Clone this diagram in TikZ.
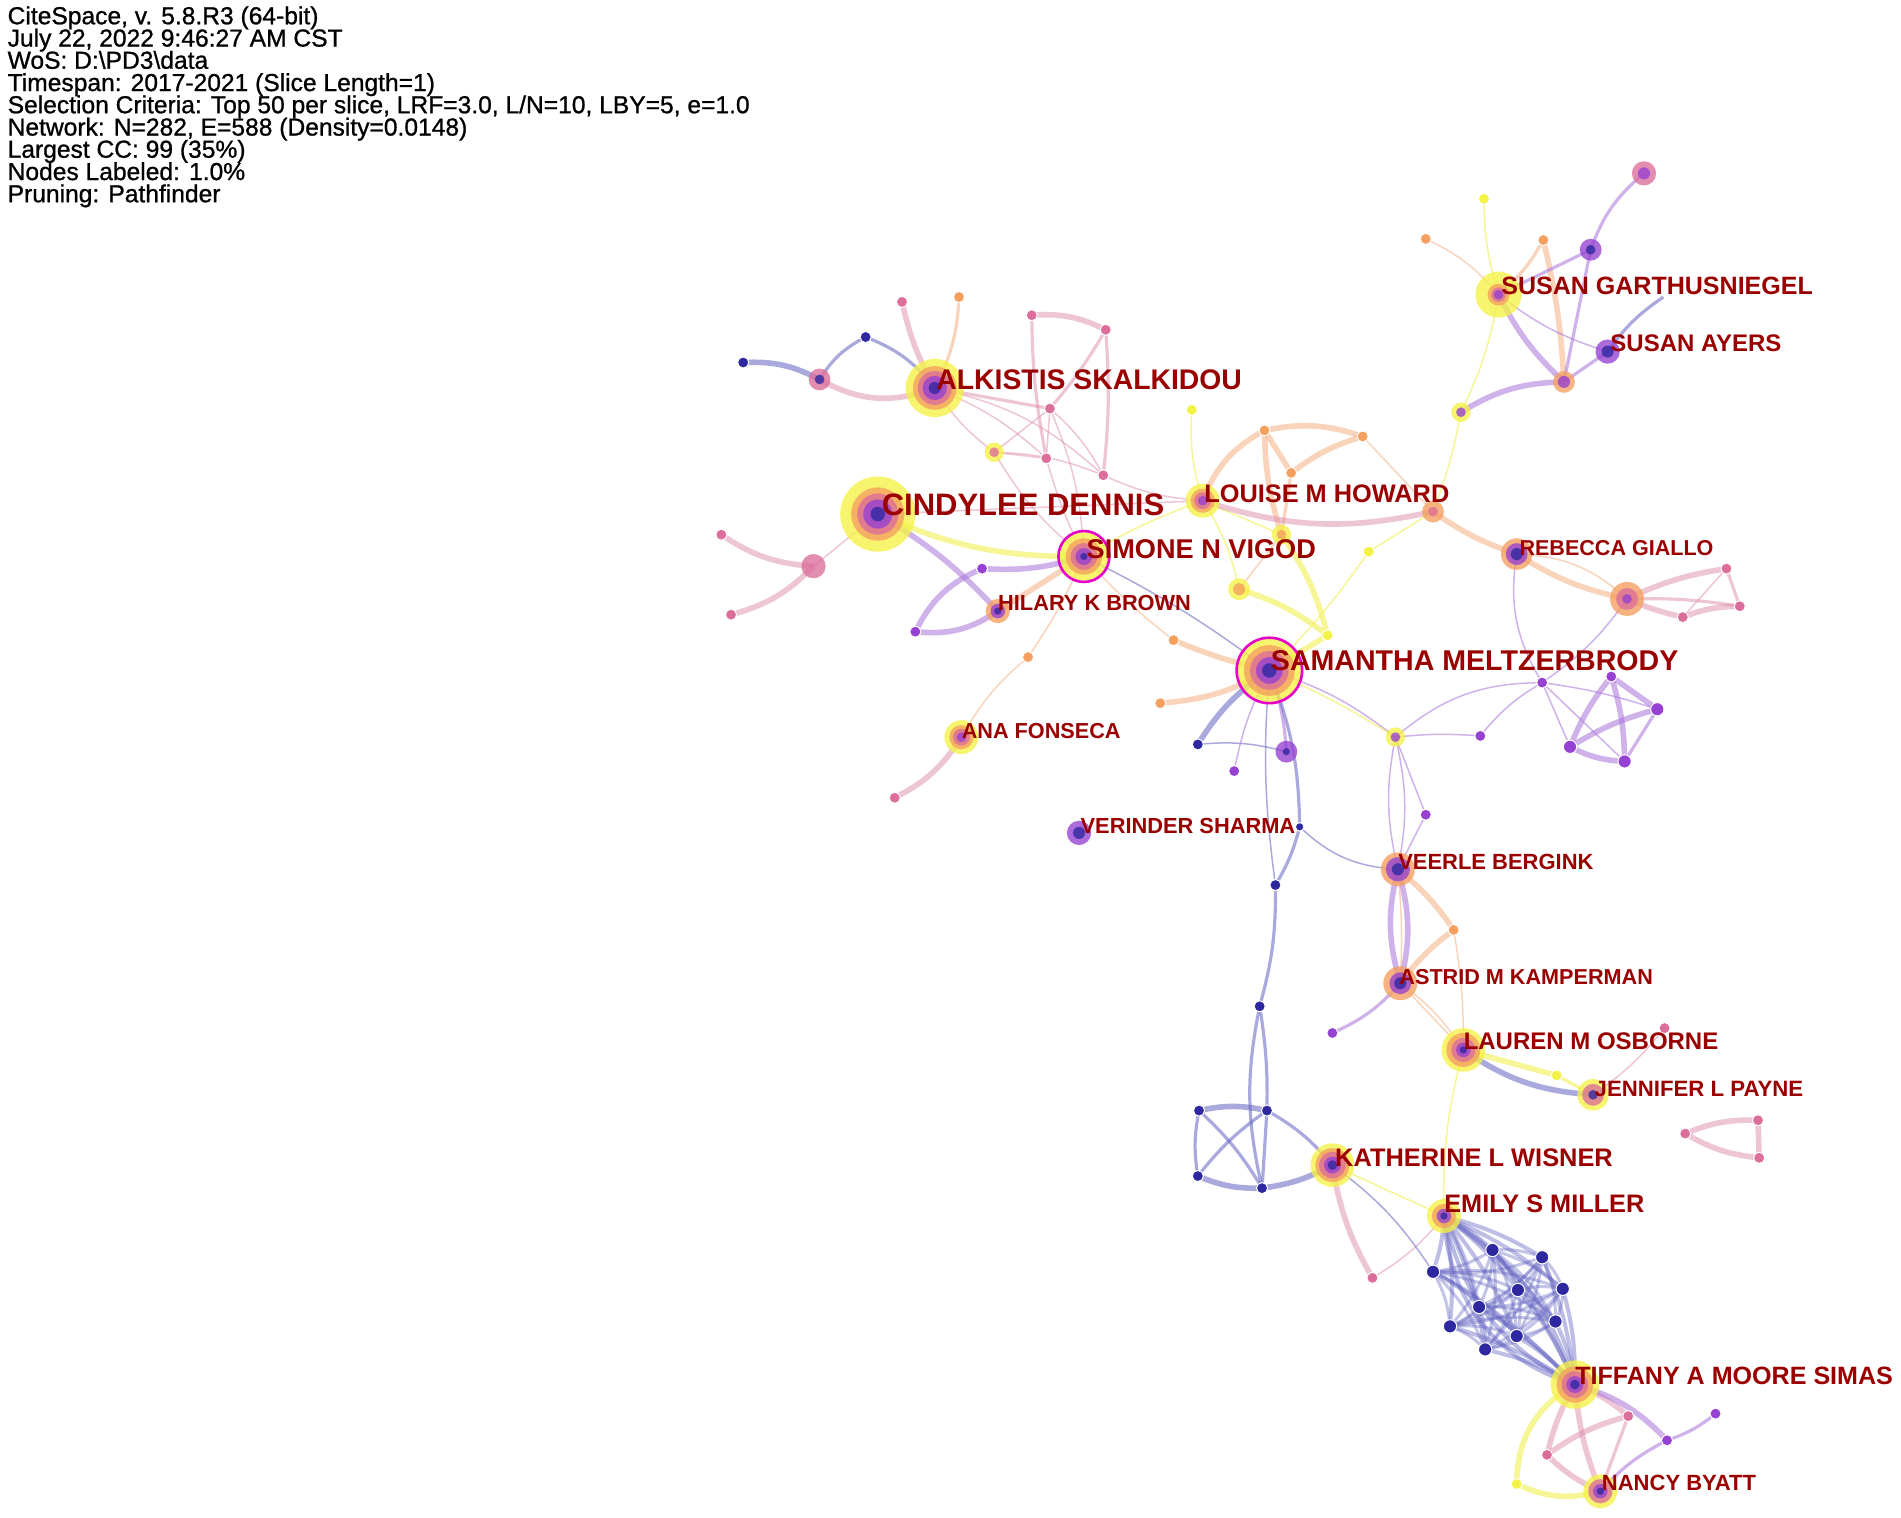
\documentclass[tikz,border=0pt]{standalone}
\usepackage{fontspec}
\setmainfont{Liberation Sans}
\newfontfamily\hdrfont{Liberation Sans}[FakeBold=0.9]
\usepackage{graphicx}
\definecolor{cEb}{RGB}{100,100,195}
\definecolor{cEp}{RGB}{170,115,220}
\definecolor{cEk}{RGB}{222,140,172}
\definecolor{cEo}{RGB}{245,170,120}
\definecolor{cEy}{RGB}{240,240,80}
\definecolor{nY}{RGB}{245,242,70}
\definecolor{nO}{RGB}{245,160,95}
\definecolor{nK}{RGB}{220,110,155}
\definecolor{nP}{RGB}{150,65,210}
\definecolor{nB}{RGB}{45,40,160}
\definecolor{labred}{RGB}{155,0,0}
\definecolor{magring}{RGB}{230,0,200}
\newcommand{\dotn}[3]{\filldraw[fill=#2, draw=white, line width=0.5pt] (#1) circle[radius=#3*0.6062pt];}
\newcommand{\ringn}[2]{\foreach \cc/\rr in {#2} {\fill[\cc, opacity=0.78] (#1) circle[radius=\rr*0.6062pt];}}
\tikzset{
  eb/.style={draw=cEb, draw opacity=0.55},
  ep/.style={draw=cEp, draw opacity=0.55},
  ek/.style={draw=cEk, draw opacity=0.5},
  eo/.style={draw=cEo, draw opacity=0.5},
  ey/.style={draw=cEy, draw opacity=0.6},
  wT/.style={line width=2.8pt},
  wM/.style={line width=1.6pt},
  wS/.style={line width=0.75pt},
  lbl/.style={anchor=west, inner sep=0pt, text=labred, font=\bfseries},
  hdr/.style={anchor=base west, inner sep=0pt, font=\hdrfont\fontsize{12.3}{11}\selectfont}
}
\begin{document}
\begin{tikzpicture}[x=0.6062pt, y=-0.6062pt]
\useasboundingbox (0,0) rectangle (1568,1252);
\fill[white] (0,0) rectangle (1568,1252);
% header
\node[hdr] (h1) at (6,20) {CiteSpace, v. 5.8.R3 (64-bit)};
\node[hdr] (h2) at (6,38.4) {July 22, 2022 9:46:27 AM CST};
\node[hdr] (h3) at (6,56.7) {WoS: D:\textbackslash PD3\textbackslash data};
\node[hdr] (h4) at (6,75.1) {Timespan: 2017-2021 (Slice Length=1)};
\node[hdr] (h5) at (6,93.4) {Selection Criteria: Top 50 per slice, LRF=3.0, L/N=10, LBY=5, e=1.0};
\node[hdr] (h6) at (6,111.8) {Network: N=282, E=588 (Density=0.0148)};
\node[hdr] (h7) at (6,130.1) {Largest CC: 99 (35\%)};
\node[hdr] (h8) at (6,148.5) {Nodes Labeled: 1.0\%};
\node[hdr] (h9) at (6,166.8) {Pruning: Pathfinder};
% coordinates
\coordinate (C) at (724,424); \coordinate (A) at (771,320); \coordinate (S) at (894,459);
\coordinate (M) at (1047,553); \coordinate (L) at (992,413); \coordinate (SG) at (1236,243);
\coordinate (SA) at (1326,290); \coordinate (RG) at (1251,457); \coordinate (HB) at (823,504);
\coordinate (AF) at (793,608); \coordinate (VS) at (890,687); \coordinate (VB) at (1153,717);
\coordinate (AK) at (1155,811); \coordinate (LO) at (1207,866); \coordinate (JP) at (1314,903);
\coordinate (KW) at (1099,961); \coordinate (EM) at (1191,1003); \coordinate (TS) at (1299,1142);
\coordinate (NB) at (1320,1230);
\coordinate (a1) at (744,249); \coordinate (a2) at (791,245); \coordinate (a3) at (714,278);
\coordinate (a4) at (676,313); \coordinate (a5) at (613,299); \coordinate (a6) at (851,260);
\coordinate (a7) at (912,272); \coordinate (a8) at (866,337); \coordinate (a9) at (820,373);
\coordinate (a10) at (863,378); \coordinate (a11) at (910,392);
\coordinate (c1) at (671,467); \coordinate (c2) at (595,441); \coordinate (c3) at (603,507);
\coordinate (p1) at (810,469); \coordinate (p2) at (755,521); \coordinate (o3) at (848,542);
\coordinate (af1) at (738,658);
\coordinate (y1) at (983,338); \coordinate (o1) at (1043,355); \coordinate (o7) at (1124,360);
\coordinate (o2) at (1065,390); \coordinate (y6) at (1057,441); \coordinate (o5) at (1182,422);
\coordinate (y5) at (1129,455); \coordinate (y2) at (1022,486); \coordinate (y4) at (1095,524);
\coordinate (o8) at (968,528); \coordinate (o4) at (957,580); \coordinate (b1) at (988,614);
\coordinate (p3) at (1018,636); \coordinate (p4) at (1061,620); \coordinate (y3) at (1151,608);
\coordinate (p5) at (1176,672); \coordinate (b2) at (1072,682); \coordinate (b3) at (1052,730);
\coordinate (s1) at (1356,143); \coordinate (s2) at (1224,164); \coordinate (s3) at (1176,197);
\coordinate (s4) at (1273,198); \coordinate (s5) at (1312,206); \coordinate (s6) at (1290,315);
\coordinate (y7) at (1205,340); \coordinate (sx) at (1372,245);
\coordinate (o6) at (1342,494); \coordinate (k1) at (1424,469); \coordinate (k2) at (1435,500);
\coordinate (k3) at (1388,509);
\coordinate (p6) at (1221,607); \coordinate (p7) at (1272,563); \coordinate (p8) at (1329,558);
\coordinate (p9) at (1367,585); \coordinate (p10) at (1295,616); \coordinate (p11) at (1340,628);
\coordinate (o9) at (1199,767); \coordinate (p12) at (1099,852); \coordinate (y8) at (1284,887);
\coordinate (k4) at (1373,848); \coordinate (k5) at (1390,935); \coordinate (k6) at (1450,924);
\coordinate (k7) at (1451,955);
\coordinate (b4) at (1039,830); \coordinate (b5) at (989,916); \coordinate (b6) at (1045,916);
\coordinate (b7) at (988,970); \coordinate (b8) at (1041,980); \coordinate (k8) at (1132,1054);
\coordinate (q1) at (1231,1031); \coordinate (q2) at (1272,1037); \coordinate (q3) at (1182,1049);
\coordinate (q4) at (1252,1064); \coordinate (q5) at (1289,1063); \coordinate (q6) at (1220,1078);
\coordinate (q7) at (1196,1094); \coordinate (q8) at (1283,1090); \coordinate (q9) at (1251,1102);
\coordinate (q10) at (1225,1113);
\coordinate (k9) at (1343,1168); \coordinate (p13) at (1415,1166); \coordinate (p14) at (1375,1188);
\coordinate (k10) at (1276,1200); \coordinate (y9) at (1251,1224);
% ---------- edges ----------
% Alkistis cluster
\draw[ek,wT] (A) to[bend left=8] (a1);
\draw[eo,wM] (A) to[bend right=12] (a2);
\draw[eb,wM] (A) to[bend right=15] (a3);
\draw[eb,wM] (a3) to[bend right=15] (a4);
\draw[eb,wT] (a4) to[bend right=15] (a5);
\draw[ek,wT] (a4) to[bend right=25] (A);
\draw[ek,wT] (a6) to[bend left=15] (a7);
\draw[ek,wM] (a6) to[bend right=5] (a10);
\draw[ek,wM] (a7) to[bend left=5] (a11);
\draw[ek,wM] (A) -- (a8);
\draw[ek,wS] (A) to[bend left=10] (a10);
\draw[ek,wS] (A) to[bend left=15] (a11);
\draw[ek,wS] (A) to[bend right=10] (a9);
\draw[ek,wS] (a8) -- (a9);
\draw[ek,wS] (a8) -- (a10);
\draw[ek,wS] (a8) to[bend left=10] (a11);
\draw[ek,wS] (a9) to[bend left=10] (a11);
\draw[ek,wS] (a9) -- (a10);
\draw[ek,wM] (a8) to[bend right=5] (a7);
\draw[ek,wS] (a9) to[bend right=10] (S);
\draw[ek,wS] (a10) to[bend right=5] (S);
\draw[ek,wS] (a8) to[bend left=10] (S);
\draw[ek,wS] (a11) to[bend right=10] (L);
% Cindylee
\draw[ek,wS] (C) -- (c1);
\draw[ek,wT] (c1) to[bend left=15] (c2);
\draw[ek,wT] (c1) to[bend left=15] (c3);
\draw[ep,wT] (C) to[bend left=8] (HB);
\draw[ey,wT] (C) to[bend right=12] (S);
\draw[ek,wS] (C) -- (L);
\draw[ep,wT] (p1) to[bend right=10] (S);
\draw[ep,wT] (p1) to[bend right=20] (p2);
\draw[ep,wT] (p2) to[bend right=20] (HB);
\draw[eo,wT] (S) -- (HB);
\draw[eo,wS] (S) to[bend left=5] (o3);
\draw[eo,wS] (o3) to[bend right=10] (AF);
\draw[ek,wT] (AF) to[bend left=15] (af1);
% Simone / Samantha
\draw[eb,wS] (S) to[bend left=5] (M);
\draw[eo,wS] (S) to[bend right=5] (o8);
\draw[eo,wT] (o8) to[bend right=5] (M);
\draw[eo,wT] (M) to[bend left=12] (o4);
\draw[eb,wT] (M) to[bend right=12] (b1);
\draw[eb,wS] (b1) to[bend left=10] (p4);
\draw[ep,wS] (M) to[bend right=8] (p3);
\draw[ep,wM] (M) to[bend left=8] (p4);
\draw[eb,wM] (M) to[bend left=10] (b2);
\draw[eb,wS] (M) to[bend right=6] (b3);
\draw[eb,wS] (b2) to[bend right=20] (VB);
\draw[eb,wM] (b2) to[bend left=8] (b3);
\draw[ep,wS] (M) to[bend left=10] (y3);
\draw[ey,wS] (M) to[bend left=4] (y3);
\draw[ey,wT] (M) -- (y4);
\draw[ey,wT] (y2) to[bend left=10] (y4);
\draw[ey,wT] (y6) to[bend left=10] (y4);
\draw[ey,wS] (L) to[bend left=10] (y2);
\draw[ey,wS] (L) -- (y6);
\draw[ey,wS] (L) to[bend left=10] (y1);
\draw[ey,wS] (L) to[bend right=5] (S);
\draw[ey,wS] (y5) to[bend left=5] (M);
\draw[ey,wS] (y5) -- (o5);
\draw[eo,wT] (L) to[bend left=20] (o1);
\draw[eo,wT] (o1) to[bend left=15] (o7);
\draw[eo,wT] (o1) -- (o2);
\draw[eo,wT] (o1) to[bend right=8] (y6);
\draw[eo,wM] (o2) -- (y6);
\draw[eo,wT] (o2) to[bend left=10] (o7);
\draw[eo,wS] (o7) -- (o5);
\draw[ek,wT] (L) to[bend right=15] (o5);
\draw[eo,wS] (y2) -- (y6);
\draw[eo,wT] (o5) to[bend right=8] (RG);
\draw[eo,wT] (RG) to[bend right=10] (o6);
\draw[eo,wS] (RG) to[bend left=20] (o6);
% Susan cluster
\draw[ey,wS] (o5) to[bend right=5] (y7);
\draw[ey,wS] (y7) to[bend right=8] (SG);
\draw[ey,wS] (SG) to[bend left=8] (s2);
\draw[eo,wS] (SG) to[bend right=12] (s3);
\draw[eo,wM] (SG) to[bend right=10] (s4);
\draw[eo,wT] (s4) to[bend left=5] (s6);
\draw[ep,wT] (SG) to[bend right=10] (s6);
\draw[ep,wS] (SG) to[bend right=10] (SA);
\draw[ep,wM] (s5) to[bend left=15] (s1);
\draw[ep,wM] (s5) -- (s6);
\draw[ep,wM] (s5) -- (SG);
\draw[ep,wM] (SA) -- (s6);
\draw[ep,wT] (y7) to[bend left=15] (s6);
\draw[eb,wM] (SA) to[bend left=10] (sx);
% Rebecca / purple cluster
\draw[ek,wT] (o6) to[bend left=8] (k1);
\draw[ek,wT] (o6) to[bend right=5] (k3);
\draw[ek,wM] (k1) -- (k2);
\draw[ek,wT] (k3) to[bend left=10] (k2);
\draw[ek,wS] (k1) -- (k3);
\draw[ek,wM] (o6) to[bend left=5] (k2);
\draw[ep,wS] (RG) to[bend right=20] (p7);
\draw[ep,wS] (o6) to[bend left=10] (p7);
\draw[ep,wS] (y3) to[bend left=20] (p7);
\draw[ep,wS] (y3) to[bend left=5] (p6);
\draw[ep,wS] (p6) to[bend left=10] (p7);
\draw[ep,wS] (p7) -- (p10);
\draw[ep,wS] (p7) -- (p11);
\draw[ep,wS] (p7) to[bend left=5] (p9);
\draw[ep,wT] (p8) -- (p9);
\draw[ep,wT] (p8) to[bend right=8] (p10);
\draw[ep,wT] (p8) to[bend left=8] (p11);
\draw[ep,wT] (p9) to[bend right=8] (p10);
\draw[ep,wM] (p9) -- (p11);
\draw[ep,wT] (p10) to[bend right=12] (p11);
\draw[ep,wS] (y3) to[bend right=12] (VB);
\draw[ep,wS] (y3) to[bend left=12] (VB);
\draw[ep,wS] (p5) -- (VB);
\draw[ep,wS] (y3) -- (p5);
% lower middle
\draw[ep,wT] (VB) to[bend right=15] (AK);
\draw[ep,wT] (VB) to[bend left=15] (AK);
\draw[eo,wS] (VB) to[bend left=4] (AK);
\draw[eo,wT] (VB) to[bend left=8] (o9);
\draw[eo,wT] (o9) to[bend right=8] (AK);
\draw[eo,wS] (o9) to[bend left=5] (LO);
\draw[eo,wS] (AK) -- (LO);
\draw[eo,wS] (AK) to[bend left=10] (LO);
\draw[ep,wM] (AK) to[bend left=12] (p12);
\draw[eb,wT] (LO) to[bend right=15] (JP);
\draw[ey,wT] (LO) -- (y8);
\draw[ey,wM] (y8) -- (JP);
\draw[ek,wS] (JP) to[bend right=8] (k4);
\draw[ek,wT] (k5) to[bend left=12] (k6);
\draw[ek,wT] (k5) to[bend right=12] (k7);
\draw[ek,wT] (k6) -- (k7);
\draw[ey,wS] (LO) to[bend right=8] (EM);
% blue chain
\draw[eb,wM] (b3) to[bend left=8] (b4);
\draw[eb,wM] (b4) to[bend left=5] (b6);
\draw[eb,wM] (b4) to[bend right=12] (b8);
\draw[eb,wT] (b5) to[bend left=12] (b6);
\draw[eb,wM] (b5) to[bend right=10] (b7);
\draw[eb,wM] (b5) to[bend left=8] (b8);
\draw[eb,wM] (b6) to[bend right=8] (b7);
\draw[eb,wM] (b6) to[bend left=10] (KW);
\draw[eb,wT] (b7) to[bend right=12] (b8);
\draw[eb,wT] (b8) to[bend right=10] (KW);
\draw[eb,wM] (b6) -- (b8);
\draw[ek,wT] (KW) to[bend right=10] (k8);
\draw[ek,wS] (EM) to[bend left=10] (k8);
\draw[ey,wS] (KW) -- (EM);
\draw[eb,wS] (KW) to[bend left=10] (q3);
% dense cluster
\foreach \i in {1,...,10} {
  \draw[eb,line width=2pt,draw opacity=0.42] (EM) to[bend left=8] (q\i);
  \draw[eb,line width=2pt,draw opacity=0.42] (q\i) to[bend left=8] (TS);
  \foreach \j in {1,...,10} {\ifnum\i<\j \draw[eb,line width=1.5pt,draw opacity=0.38] (q\i) to[bend left=12] (q\j);\fi}
}
\draw[eb,line width=2pt,draw opacity=0.45] (EM) to[bend right=25] (TS);
\draw[eb,line width=2pt,draw opacity=0.45] (EM) to[bend left=20] (TS);
\draw[eb,line width=2pt,draw opacity=0.45] (EM) to[bend right=35] (TS);
% Tiffany / Nancy
\draw[ek,wT] (TS) to[bend left=10] (k9);
\draw[ek,wT] (TS) to[bend right=8] (k10);
\draw[ep,wT] (TS) to[bend left=15] (p14);
\draw[ep,wM] (p14) to[bend right=10] (p13);
\draw[ey,wT] (TS) to[bend right=30] (y9);
\draw[ey,wT] (y9) to[bend right=20] (NB);
\draw[ek,wT] (k10) to[bend right=10] (NB);
\draw[ek,wT] (k10) to[bend left=10] (k9);
\draw[ek,wM] (k9) -- (NB);
\draw[ep,wM] (p14) to[bend right=10] (NB);
\draw[ek,wT] (TS) to[bend right=8] (NB);
% ---------- nodes ----------
\ringn{C}{nY/31,nO/22,nK/17,nP/12,nB/6}
\ringn{A}{nY/24,nO/18,nK/14,nP/10,nB/5}
\ringn{S}{nY/20,nO/15,nK/11,nP/7,nB/3}
\draw[magring,line width=1.3pt] (S) circle[radius=21*0.6062pt];
\ringn{M}{nY/26,nO/21,nK/16,nP/11,nB/6}
\draw[magring,line width=1.3pt] (M) circle[radius=27*0.6062pt];
\ringn{L}{nY/14,nO/10,nK/7,nP/4}
\ringn{SG}{nY/19,nO/9,nK/6,nP/4}
\ringn{SA}{nP/10,nB/5}
\ringn{RG}{nO/13,nP/9,nB/5}
\ringn{HB}{nO/10,nP/6,nB/3}
\ringn{AF}{nY/14,nO/10,nK/7,nP/4}
\ringn{VS}{nP/10,nB/5}
\ringn{VB}{nO/14,nP/10,nB/5}
\ringn{AK}{nO/14,nP/9,nB/5}
\ringn{LO}{nY/18,nO/14,nK/10,nP/6,nB/3}
\ringn{JP}{nY/13,nK/9,nB/4}
\ringn{KW}{nY/18,nO/14,nK/11,nP/7,nB/4}
\ringn{EM}{nY/14,nO/10,nP/6,nB/3}
\ringn{TS}{nY/20,nO/15,nK/11,nP/7,nB/4}
\ringn{NB}{nY/14,nK/10,nP/6,nB/3}
\ringn{a4}{nK/9,nB/4}
\ringn{a9}{nY/8,nK/4}
\ringn{c1}{nK/10}
\ringn{y6}{nY/8,nO/4}
\ringn{o5}{nO/9,nK/4}
\ringn{y2}{nY/9,nO/5}
\ringn{p4}{nP/9,nB/3}
\ringn{y3}{nY/8,nP/4}
\ringn{s1}{nK/10,nP/5}
\ringn{s5}{nP/9,nB/4}
\ringn{s6}{nO/9,nP/5}
\ringn{y7}{nY/8,nP/4}
\ringn{o6}{nO/14,nK/9,nP/4}
\foreach \n in {a1,a6,a7,a8,a10,a11,c2,c3,af1,k1,k2,k3,k4,k5,k6,k7,k8,k9,k10} {\dotn{\n}{nK}{4.6}}
\foreach \n in {a2,o3,o1,o7,o2,o8,o4,s3,s4,o9} {\dotn{\n}{nO}{4.6}}
\foreach \n in {a3,a5,b1,b3,b4,b5,b6,b7,b8} {\dotn{\n}{nB}{4.6}}
\dotn{b2}{nB}{3.5}
\foreach \n in {p1,p2,p3,p5,p6,p7,p8,p12,p13,p14} {\dotn{\n}{nP}{4.6}}
\foreach \n in {p9,p10,p11} {\dotn{\n}{nP}{5.5}}
\foreach \n in {y1,y5,y4,s2,y8,y9} {\dotn{\n}{nY}{4.6}}
\foreach \n in {q1,q2,q3,q4,q5,q6,q7,q8,q9,q10} {\dotn{\n}{nB}{5.5}}
% ---------- labels ----------
\node[lbl] (tC) at (727,416) {\resizebox{141.2pt}{!}{CINDYLEE DENNIS}};
\node[lbl] (tA) at (772,313) {\resizebox{152.8pt}{!}{ALKISTIS SKALKIDOU}};
\node[lbl] (tS) at (896,453) {\resizebox{114.6pt}{!}{SIMONE N VIGOD}};
\node[lbl] (tM) at (1048,545) {\resizebox{203.7pt}{!}{SAMANTHA MELTZERBRODY}};
\node[lbl] (tL) at (993,407) {\resizebox{122.5pt}{!}{LOUISE M HOWARD}};
\node[lbl] (tSG) at (1238,236) {\resizebox{155.8pt}{!}{SUSAN GARTHUSNIEGEL}};
\node[lbl] (tSA) at (1328,283) {\resizebox{85.5pt}{!}{SUSAN AYERS}};
\node[lbl] (tRG) at (1253,452) {\resizebox{97.0pt}{!}{REBECCA GIALLO}};
\node[lbl] (tHB) at (823,497) {\resizebox{96.4pt}{!}{HILARY K BROWN}};
\node[lbl] (tAF) at (793,603) {\resizebox{79.4pt}{!}{ANA FONSECA}};
\node[lbl] (tVS) at (891,681) {\resizebox{107.3pt}{!}{VERINDER SHARMA}};
\node[lbl] (tVB) at (1153,711) {\resizebox{97.6pt}{!}{VEERLE BERGINK}};
\node[lbl] (tAK) at (1154,806) {\resizebox{126.7pt}{!}{ASTRID M KAMPERMAN}};
\node[lbl] (tLO) at (1207,859) {\resizebox{127.3pt}{!}{LAUREN M OSBORNE}};
\node[lbl] (tJP) at (1315,898) {\resizebox{104.3pt}{!}{JENNIFER L PAYNE}};
\node[lbl] (tKW) at (1101,955) {\resizebox{138.8pt}{!}{KATHERINE L WISNER}};
\node[lbl] (tEM) at (1191,993) {\resizebox{100.0pt}{!}{EMILY S MILLER}};
\node[lbl] (tTS) at (1299,1135) {\resizebox{158.8pt}{!}{TIFFANY A MOORE SIMAS}};
\node[lbl] (tNB) at (1321,1223) {\resizebox{77pt}{!}{NANCY BYATT}};
\end{tikzpicture}
\end{document}
